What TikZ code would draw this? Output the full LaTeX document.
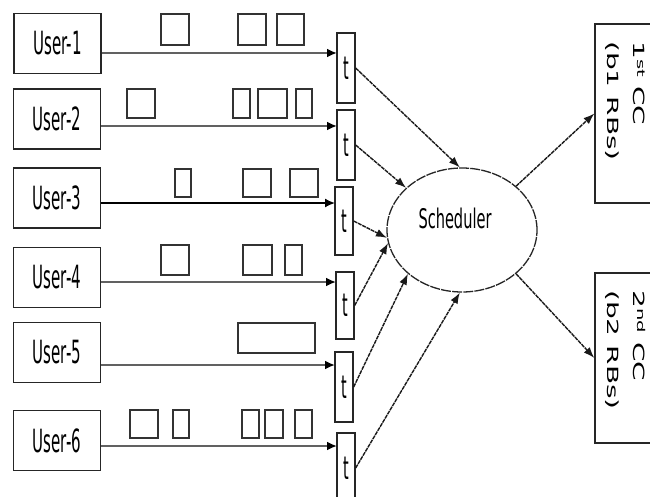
\documentclass[tikz,border=0pt]{standalone}
\usepackage{fontspec}
\setmainfont{DejaVu Sans}
\usetikzlibrary{shapes.geometric,arrows.meta}
\newcommand\narrowtxt[3]{\scalebox{#1}[1]{\fontsize{#2}{#2}\selectfont #3}}
\newcommand\cclines[2]{\scalebox{1}[0.55]{\fontsize{28}{46}\selectfont\begin{tabular}[t]{@{}l@{}}#1\\#2\end{tabular}}}
\begin{document}
\begin{tikzpicture}[x=1pt,y=-1pt,
  userbox/.style={draw=black!85,line width=1.4pt,inner sep=0pt,minimum width=87pt,minimum height=60pt},
  tbox/.style={draw=black!85,line width=1.3pt,inner sep=0pt,minimum width=18pt,minimum height=70pt},
  ccbox/.style={draw=black!85,line width=1.3pt,inner sep=0pt,minimum width=70pt},
  cctext/.style={rotate=-90,inner sep=0pt,anchor=base west},
  packet/.style={draw=black!80,line width=1.4pt},
  flow/.style={draw=black!62,line width=2.4pt,-{Latex[length=10pt,width=9pt,color=black]}},
  solidflow/.style={draw=black,line width=1.6pt,-{Latex[length=10pt,width=9pt]}},
  tarrow/.style={draw=black!90,line width=1.4pt,dash pattern=on 4pt off 0.8pt,-{Latex[length=11pt,width=8pt]}},
  schellipse/.style={draw=black!85,line width=1.3pt,dash pattern=on 10pt off 1.2pt,ellipse,minimum width=150pt,minimum height=124pt,inner sep=0pt}
]
\useasboundingbox (0,0) rectangle (650,497);
\clip (0,0) rectangle (650,497);
\fill[white] (0,0) rectangle (650,497);

% users
\node[userbox] (u1) at (57.5,43.5) {\narrowtxt{0.47}{32}{User-1}};
\node[userbox] (u2) at (57,119) {\narrowtxt{0.47}{32}{User-2}};
\node[userbox] (u3) at (57,198) {\narrowtxt{0.47}{32}{User-3}};
\node[userbox] (u4) at (57,277.5) {\narrowtxt{0.47}{32}{User-4}};
\node[userbox] (u5) at (57,352.5) {\narrowtxt{0.47}{32}{User-5}};
\node[userbox] (u6) at (57,440.5) {\narrowtxt{0.47}{32}{User-6}};

% t boxes
\node[tbox] (t1) at (346,68) {\narrowtxt{0.45}{32}{t}};
\node[tbox] (t2) at (346,145) {\narrowtxt{0.45}{32}{t}};
\node[tbox,minimum height=68pt] (t3) at (344,221) {\narrowtxt{0.45}{32}{t}};
\node[tbox,minimum height=67pt] (t4) at (345,305.5) {\narrowtxt{0.45}{32}{t}};
\node[tbox] (t5) at (344,387) {\narrowtxt{0.45}{32}{t}};
\node[tbox] (t6) at (346,468) {\narrowtxt{0.45}{32}{t}};

% arrow end points on the t boxes
\coordinate (in1) at (337,53);
\coordinate (in2) at (337,126);
\coordinate (in3) at (335,203);
\coordinate (in4) at (336,282);
\coordinate (in5) at (335,365);
\coordinate (in6) at (337,446);

\draw[flow] (u1.east |- in1) -- (in1);
\draw[flow] (u2.east |- in2) -- (in2);
\draw[solidflow] (u3.east |- in3) -- (in3);
\draw[flow] (u4.east |- in4) -- (in4);
\draw[flow] (u5.east |- in5) -- (in5);
\draw[flow] (u6.east |- in6) -- (in6);

% packets
\draw[packet] (161,14) rectangle (189,45);
\draw[packet] (238,14) rectangle (266,45);
\draw[packet] (277,14) rectangle (304,45);

\draw[packet] (127,89) rectangle (155,118);
\draw[packet] (233,89) rectangle (250,118);
\draw[packet] (258,89) rectangle (287,118);
\draw[packet] (296,89) rectangle (312,118);

\draw[packet] (175,169) rectangle (191,197);
\draw[packet] (243,169) rectangle (271,197);
\draw[packet] (290,169) rectangle (318,197);

\draw[packet] (161,245) rectangle (189,275);
\draw[packet] (243,245) rectangle (272,275);
\draw[packet] (285,245) rectangle (302,275);

\draw[packet] (238,323) rectangle (315,353);

\draw[packet] (130,410) rectangle (158,438);
\draw[packet] (173,410) rectangle (189,438);
\draw[packet] (242,410) rectangle (259,438);
\draw[packet] (265,410) rectangle (283,438);
\draw[packet] (295,410) rectangle (312,438);

% scheduler
\node[schellipse] (sch) at (462,230) {};
\node (schlabel) at (455,218) {\narrowtxt{0.54}{27}{Scheduler}};

\draw[tarrow] (t1.east) -- (sch.92);
\draw[tarrow] (t2.east) -- (sch.143);
\draw[tarrow] (t3.east) -- (sch.186);
\draw[tarrow] (t4.east) -- (sch.190);
\draw[tarrow] (t5.east) -- (sch.219);
\draw[tarrow] (t6.east) -- (sch.268);

% component carriers
\node[ccbox,minimum height=179pt] (cc1) at (630,113.5) {};
\node[ccbox,minimum height=170pt] (cc2) at (630,358) {};
\node[cctext] (cc1t) at (633,41) {\cclines{1\textsuperscript{st} CC}{(b1 RBs)}};
\node[cctext] (cc2t) at (633,290) {\cclines{2\textsuperscript{nd} CC}{(b2 RBs)}};

\draw[tarrow] (sch.39) -- (cc1.west);
\draw[tarrow] (sch.321) -- (cc2.west);
\end{tikzpicture}
\end{document}
